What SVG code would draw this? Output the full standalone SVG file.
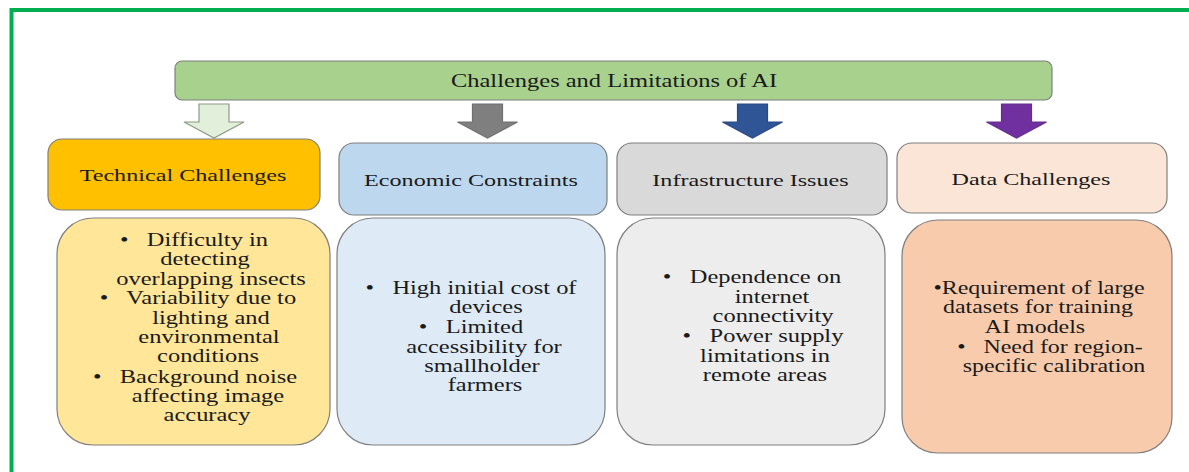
<svg xmlns="http://www.w3.org/2000/svg" width="1189" height="472" viewBox="0 0 1189 472">
  <style>
    .box { stroke: #7f7f7f; stroke-width: 1.2; }
    .t { font-family: "Liberation Serif", "Times New Roman", serif; fill: #1a1a1a; text-anchor: middle; white-space: pre; }
    .ttl { font-size: 18px; }
    .hd { font-size: 17.5px; }
    .bd { font-size: 18px; }
    .arr { stroke-width: 1.2; stroke-linejoin: miter; }
  </style>
  <defs>
    <!-- block arrow pointing down, tip at (0,0) -->
    <path id="downArrow" d="M-15,-34 H15 V-16 H30 L0,0 L-30,-16 H-15 Z"/>
  </defs>

  <rect width="1189" height="472" fill="#ffffff"/>
  <!-- green frame (left and top edges) -->
  <path d="M11.5,472 V10 H1189" fill="none" stroke="#00B050" stroke-width="4"/>

  <g id="title">
    <rect class="box" x="175" y="61" width="877" height="39" rx="7" fill="#A9D18E" stroke="#76906a"/>
    <text class="t ttl" transform="translate(614 87) scale(1.36 1)">Challenges and Limitations of AI</text>
  </g>

  <g id="connectors">
    <use href="#downArrow" class="arr" transform="translate(214 138)" fill="#E2EFDA" stroke="#8c9a84"/>
    <use href="#downArrow" class="arr" transform="translate(487.5 138)" fill="#7F7F7F" stroke="#707070"/>
    <use href="#downArrow" class="arr" transform="translate(752.5 138)" fill="#2F5597" stroke="#2a4a80"/>
    <use href="#downArrow" class="arr" transform="translate(1016.5 138)" fill="#7030A0" stroke="#62308a"/>
  </g>

  <g id="technical-header">
    <rect class="box" x="48" y="139" width="272" height="71" rx="14" fill="#FFC000" stroke="#8a7a4a"/>
    <text class="t hd" transform="translate(183 181) scale(1.38 1)">Technical Challenges</text>
  </g>
  <g id="economic-header">
    <rect class="box" x="339" y="143" width="268" height="72" rx="15" fill="#BDD7EE" stroke="#6f7f90"/>
    <text class="t hd" transform="translate(471 186) scale(1.38 1)">Economic Constraints</text>
  </g>
  <g id="infrastructure-header">
    <rect class="box" x="617" y="143" width="270" height="72" rx="15" fill="#D9D9D9" stroke="#7f7f7f"/>
    <text class="t hd" transform="translate(750.5 186) scale(1.38 1)">Infrastructure Issues</text>
  </g>
  <g id="data-header">
    <rect class="box" x="897" y="143" width="270" height="70" rx="15" fill="#FBE5D6" stroke="#8f8580"/>
    <text class="t hd" transform="translate(1031 185) scale(1.38 1)">Data Challenges</text>
  </g>

  <g id="technical-body">
    <rect class="box" x="57" y="218" width="273" height="227" rx="36" fill="#FFE699" stroke="#7a7060"/>
    <text class="t bd" transform="translate(194 246) scale(1.36 1)">•   Difficulty in</text>
    <text class="t bd" transform="translate(205 265) scale(1.36 1)">detecting</text>
    <text class="t bd" transform="translate(211 285) scale(1.36 1)">overlapping insects</text>
    <text class="t bd" transform="translate(198 304) scale(1.36 1)">•   Variability due to</text>
    <text class="t bd" transform="translate(211 324) scale(1.36 1)">lighting and</text>
    <text class="t bd" transform="translate(209 343) scale(1.36 1)">environmental</text>
    <text class="t bd" transform="translate(208 362) scale(1.36 1)">conditions</text>
    <text class="t bd" transform="translate(195 383) scale(1.36 1)">•   Background noise</text>
    <text class="t bd" transform="translate(208 402) scale(1.36 1)">affecting image</text>
    <text class="t bd" transform="translate(207 421) scale(1.36 1)">accuracy</text>
  </g>

  <g id="economic-body">
    <rect class="box" x="337" y="218" width="268" height="227" rx="36" fill="#DEEBF7" stroke="#6f7f90"/>
    <text class="t bd" transform="translate(471 294) scale(1.36 1)">•   High initial cost of</text>
    <text class="t bd" transform="translate(486 313) scale(1.36 1)">devices</text>
    <text class="t bd" transform="translate(471 333) scale(1.36 1)">•   Limited</text>
    <text class="t bd" transform="translate(484 353) scale(1.36 1)">accessibility for</text>
    <text class="t bd" transform="translate(482 372) scale(1.36 1)">smallholder</text>
    <text class="t bd" transform="translate(485 391) scale(1.36 1)">farmers</text>
  </g>

  <g id="infrastructure-body">
    <rect class="box" x="617" y="218" width="268" height="227" rx="36" fill="#EDEDED" stroke="#7f7f7f"/>
    <text class="t bd" transform="translate(752 283) scale(1.36 1)">•   Dependence on</text>
    <text class="t bd" transform="translate(772 303) scale(1.36 1)">internet</text>
    <text class="t bd" transform="translate(773 322) scale(1.36 1)">connectivity</text>
    <text class="t bd" transform="translate(763 342) scale(1.36 1)">•   Power supply</text>
    <text class="t bd" transform="translate(765 362) scale(1.36 1)">limitations in</text>
    <text class="t bd" transform="translate(765 381) scale(1.36 1)">remote areas</text>
  </g>

  <g id="data-body">
    <rect class="box" x="902" y="220" width="270" height="233" rx="36" fill="#F8CBAD" stroke="#8f8580"/>
    <text class="t bd" transform="translate(1039 294) scale(1.33 1)">•Requirement of large</text>
    <text class="t bd" transform="translate(1038 313) scale(1.33 1)">datasets for training</text>
    <text class="t bd" transform="translate(1035 333) scale(1.33 1)">AI models</text>
    <text class="t bd" transform="translate(1050 353) scale(1.33 1)">•   Need for region-</text>
    <text class="t bd" transform="translate(1054 372) scale(1.33 1)">specific calibration</text>
  </g>
</svg>
